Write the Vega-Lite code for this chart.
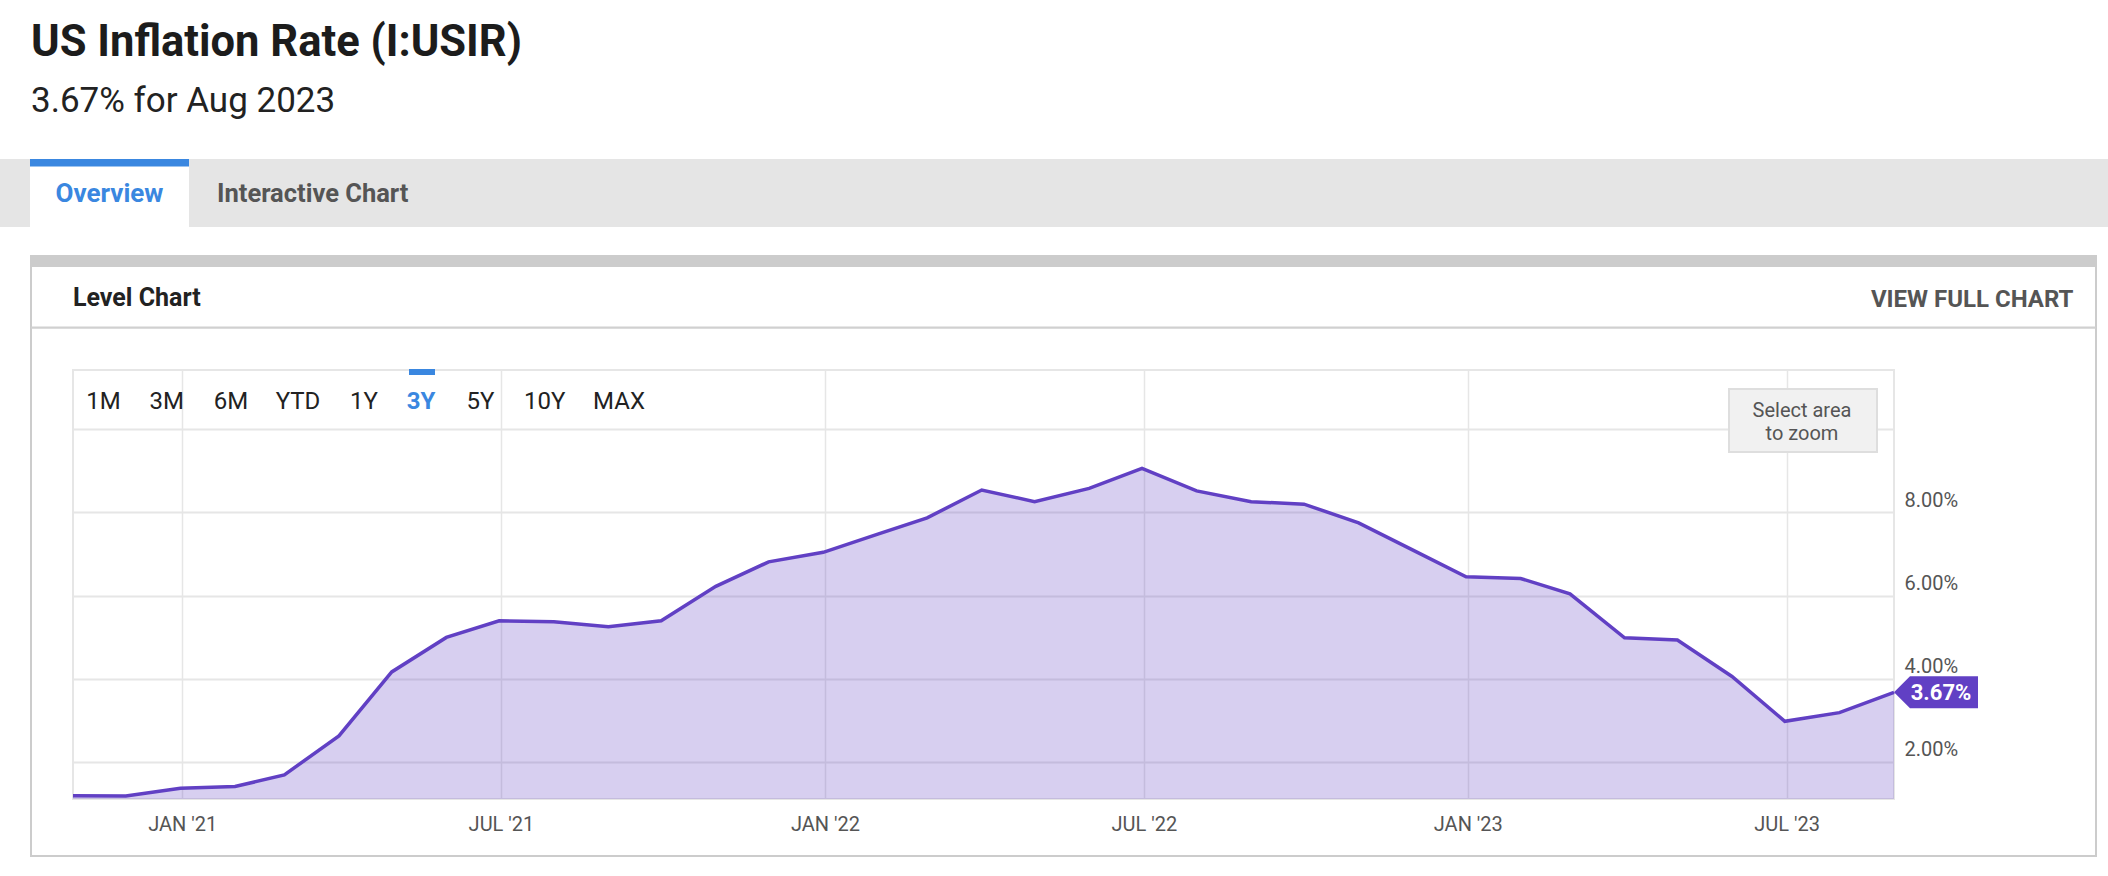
{
  "$schema": "https://vega.github.io/schema/vega-lite/v6.json",
  "width": 1821,
  "height": 429,
  "autosize": {"type": "none"},
  "padding": {"left": 73, "top": 370, "right": 214, "bottom": 77},
  "background": "#ffffff",
  "config": {
    "view": {"stroke": "#e6e6e6", "strokeWidth": 2},
    "font": "Roboto, sans-serif"
  },
  "datasets": {
    "cpi": [
      {"date": "2020-10-31", "value": 1.18},
      {"date": "2020-11-30", "value": 1.17},
      {"date": "2020-12-31", "value": 1.36},
      {"date": "2021-01-31", "value": 1.40},
      {"date": "2021-02-28", "value": 1.68},
      {"date": "2021-03-31", "value": 2.62},
      {"date": "2021-04-30", "value": 4.16},
      {"date": "2021-05-31", "value": 4.99},
      {"date": "2021-06-30", "value": 5.39},
      {"date": "2021-07-31", "value": 5.37},
      {"date": "2021-08-31", "value": 5.25},
      {"date": "2021-09-30", "value": 5.39},
      {"date": "2021-10-31", "value": 6.22},
      {"date": "2021-11-30", "value": 6.81},
      {"date": "2021-12-31", "value": 7.04},
      {"date": "2022-01-31", "value": 7.48},
      {"date": "2022-02-28", "value": 7.87},
      {"date": "2022-03-31", "value": 8.54},
      {"date": "2022-04-30", "value": 8.26},
      {"date": "2022-05-31", "value": 8.58},
      {"date": "2022-06-30", "value": 9.06},
      {"date": "2022-07-31", "value": 8.52},
      {"date": "2022-08-31", "value": 8.26},
      {"date": "2022-09-30", "value": 8.20},
      {"date": "2022-10-31", "value": 7.75},
      {"date": "2022-11-30", "value": 7.11},
      {"date": "2022-12-31", "value": 6.45},
      {"date": "2023-01-31", "value": 6.41},
      {"date": "2023-02-28", "value": 6.04},
      {"date": "2023-03-31", "value": 4.98},
      {"date": "2023-04-30", "value": 4.93},
      {"date": "2023-05-31", "value": 4.05},
      {"date": "2023-06-30", "value": 2.97},
      {"date": "2023-07-31", "value": 3.18},
      {"date": "2023-08-31", "value": 3.67}
    ],
    "one": [{}]
  },
  "data": {"name": "cpi"},
  "layer": [
    {"data": {"name": "one"}, "mark": {"type": "rect", "fill": "#e5e5e5"},
     "encoding": {"x": {"value": -73}, "x2": {"value": 2035}, "y": {"value": -211}, "y2": {"value": -143}}},
    {"data": {"name": "one"}, "mark": {"type": "rect", "fill": "#ffffff"},
     "encoding": {"x": {"value": -43}, "x2": {"value": 116}, "y": {"value": -205}, "y2": {"value": -143}}},
    {"data": {"name": "one"}, "mark": {"type": "rect", "fill": "#3a87e0"},
     "encoding": {"x": {"value": -43}, "x2": {"value": 116}, "y": {"value": -211}, "y2": {"value": -203.5}}},
    {"data": {"name": "one"}, "mark": {"type": "rect", "fill": "#ffffff", "fillOpacity": 0, "stroke": "#cccccc", "strokeWidth": 2},
     "encoding": {"x": {"value": -42}, "x2": {"value": 2023}, "y": {"value": -114}, "y2": {"value": 486}}},
    {"data": {"name": "one"}, "mark": {"type": "rect", "fill": "#cccccc"},
     "encoding": {"x": {"value": -43}, "x2": {"value": 2024}, "y": {"value": -115}, "y2": {"value": -103}}},
    {"data": {"name": "one"}, "mark": {"type": "rect", "fill": "#d0d0d0"},
     "encoding": {"x": {"value": -42}, "x2": {"value": 2023}, "y": {"value": -43.5}, "y2": {"value": -41.3}}},
    {"data": {"name": "one"}, "mark": {"type": "rect", "fill": "#f1f1f1", "stroke": "#dedede", "strokeWidth": 2},
     "encoding": {"x": {"value": 1656}, "x2": {"value": 1804}, "y": {"value": 19}, "y2": {"value": 82}}},
    {"data": {"name": "one"}, "mark": {"type": "rect", "fill": "#3a87e0"},
     "encoding": {"x": {"value": 336}, "x2": {"value": 362}, "y": {"value": -1}, "y2": {"value": 5}}},
    {
      "mark": {"type": "area", "fill": "#6140c4", "fillOpacity": 0.25, "clip": true},
      "encoding": {
        "x": {
          "field": "date", "type": "temporal",
          "scale": {"type": "utc", "domain": [{"year": 2020, "month": 10, "date": 31, "utc": true}, {"year": 2023, "month": 8, "date": 31, "utc": true}]},
          "axis": {
            "title": null, "orient": "bottom",
            "values": [
              {"year": 2021, "month": 1, "date": 1, "utc": true},
              {"year": 2021, "month": 7, "date": 1, "utc": true},
              {"year": 2022, "month": 1, "date": 1, "utc": true},
              {"year": 2022, "month": 7, "date": 1, "utc": true},
              {"year": 2023, "month": 1, "date": 1, "utc": true},
              {"year": 2023, "month": 7, "date": 1, "utc": true}
            ],
            "labelExpr": "upper(utcFormat(datum.value, \"%b '%y\"))",
            "grid": true, "gridColor": "#e6e6e6", "gridWidth": 1.5,
            "ticks": false, "tickSize": 0, "domain": false,
            "labelFontSize": 20, "labelColor": "#555555", "labelPadding": 31,
            "labelBaseline": "alphabetic", "labelFlush": false, "labelOverlap": false
          }
        },
        "y": {
          "field": "value", "type": "quantitative",
          "scale": {"domain": [1.1, 11.43], "nice": false, "zero": false},
          "axis": {
            "title": null, "orient": "right",
            "values": [2, 4, 6, 8, 10],
            "labelExpr": "datum.value >= 10 ? '' : format(datum.value, '.2f') + '%'",
            "grid": true, "gridColor": "#e6e6e6", "gridWidth": 2,
            "ticks": false, "tickSize": 0, "domain": false,
            "labelFontSize": 20, "labelColor": "#555555", "labelPadding": 10,
            "labelAlign": "left", "labelBaseline": "alphabetic", "labelOffset": -6
          }
        }
      }
    },
    {
      "mark": {"type": "line", "stroke": "#6140c4", "strokeWidth": 3.5},
      "encoding": {
        "x": {"field": "date", "type": "temporal"},
        "y": {"field": "value", "type": "quantitative"}
      }
    },
    {
      "transform": [{"filter": "datum.value == 3.67"}],
      "mark": {"type": "point", "shape": "M0,0L0.381,-0.381L2,-0.381L2,0.381L0.381,0.381Z", "size": 7056, "filled": true, "fill": "#6140c4", "opacity": 1, "strokeWidth": 0},
      "encoding": {
        "x": {"field": "date", "type": "temporal"},
        "y": {"field": "value", "type": "quantitative"}
      }
    },
    {
      "transform": [{"filter": "datum.value == 3.67"}, {"calculate": "format(datum.value, '.2f') + '%'", "as": "label"}],
      "mark": {"type": "text", "align": "center", "baseline": "alphabetic", "dx": 47, "dy": 8, "fontSize": 22, "fontWeight": "bold", "color": "#ffffff"},
      "encoding": {
        "x": {"field": "date", "type": "temporal"},
        "y": {"field": "value", "type": "quantitative"},
        "text": {"field": "label"}
      }
    },
    {"data": {"name": "one"}, "mark": {"type": "text", "align": "left", "baseline": "alphabetic", "fontSize": 43.5, "fontWeight": "bold", "color": "#1c1c1c"},
     "encoding": {"x": {"value": -42}, "y": {"value": -314}, "text": {"value": "US Inflation Rate (I:USIR)"}}},
    {"data": {"name": "one"}, "mark": {"type": "text", "align": "left", "baseline": "alphabetic", "fontSize": 35, "color": "#222222"},
     "encoding": {"x": {"value": -42}, "y": {"value": -258}, "text": {"value": "3.67% for Aug 2023"}}},
    {"data": {"name": "one"}, "mark": {"type": "text", "align": "center", "baseline": "alphabetic", "fontSize": 26, "fontWeight": "bold", "color": "#3a87e0"},
     "encoding": {"x": {"value": 36.5}, "y": {"value": -168.3}, "text": {"value": "Overview"}}},
    {"data": {"name": "one"}, "mark": {"type": "text", "align": "left", "baseline": "alphabetic", "fontSize": 25.5, "fontWeight": "bold", "color": "#555555"},
     "encoding": {"x": {"value": 144}, "y": {"value": -168.3}, "text": {"value": "Interactive Chart"}}},
    {"data": {"name": "one"}, "mark": {"type": "text", "align": "left", "baseline": "alphabetic", "fontSize": 25, "fontWeight": "bold", "color": "#222222"},
     "encoding": {"x": {"value": 0}, "y": {"value": -64}, "text": {"value": "Level Chart"}}},
    {"data": {"name": "one"}, "mark": {"type": "text", "align": "right", "baseline": "alphabetic", "fontSize": 24, "fontWeight": "bold", "color": "#555555"},
     "encoding": {"x": {"value": 2000.5}, "y": {"value": -63.3}, "text": {"value": "VIEW FULL CHART"}}},
    {"data": {"name": "one"}, "mark": {"type": "text", "align": "center", "baseline": "alphabetic", "fontSize": 24, "color": "#222222"},
     "encoding": {"x": {"value": 30.5}, "y": {"value": 39.3}, "text": {"value": "1M"}}},
    {"data": {"name": "one"}, "mark": {"type": "text", "align": "center", "baseline": "alphabetic", "fontSize": 24, "color": "#222222"},
     "encoding": {"x": {"value": 93.7}, "y": {"value": 39.3}, "text": {"value": "3M"}}},
    {"data": {"name": "one"}, "mark": {"type": "text", "align": "center", "baseline": "alphabetic", "fontSize": 24, "color": "#222222"},
     "encoding": {"x": {"value": 158}, "y": {"value": 39.3}, "text": {"value": "6M"}}},
    {"data": {"name": "one"}, "mark": {"type": "text", "align": "center", "baseline": "alphabetic", "fontSize": 24, "color": "#222222"},
     "encoding": {"x": {"value": 225}, "y": {"value": 39.3}, "text": {"value": "YTD"}}},
    {"data": {"name": "one"}, "mark": {"type": "text", "align": "center", "baseline": "alphabetic", "fontSize": 24, "color": "#222222"},
     "encoding": {"x": {"value": 291}, "y": {"value": 39.3}, "text": {"value": "1Y"}}},
    {"data": {"name": "one"}, "mark": {"type": "text", "align": "center", "baseline": "alphabetic", "fontSize": 24, "fontWeight": "bold", "color": "#3a87e0"},
     "encoding": {"x": {"value": 348}, "y": {"value": 39.3}, "text": {"value": "3Y"}}},
    {"data": {"name": "one"}, "mark": {"type": "text", "align": "center", "baseline": "alphabetic", "fontSize": 24, "color": "#222222"},
     "encoding": {"x": {"value": 407.5}, "y": {"value": 39.3}, "text": {"value": "5Y"}}},
    {"data": {"name": "one"}, "mark": {"type": "text", "align": "center", "baseline": "alphabetic", "fontSize": 24, "color": "#222222"},
     "encoding": {"x": {"value": 471.7}, "y": {"value": 39.3}, "text": {"value": "10Y"}}},
    {"data": {"name": "one"}, "mark": {"type": "text", "align": "center", "baseline": "alphabetic", "fontSize": 24, "color": "#222222"},
     "encoding": {"x": {"value": 546}, "y": {"value": 39.3}, "text": {"value": "MAX"}}},
    {"data": {"name": "one"}, "mark": {"type": "text", "align": "center", "baseline": "alphabetic", "fontSize": 20, "color": "#555555"},
     "encoding": {"x": {"value": 1729}, "y": {"value": 46.7}, "text": {"value": "Select area"}}},
    {"data": {"name": "one"}, "mark": {"type": "text", "align": "center", "baseline": "alphabetic", "fontSize": 20, "color": "#555555"},
     "encoding": {"x": {"value": 1729}, "y": {"value": 70}, "text": {"value": "to zoom"}}}
  ]
}
